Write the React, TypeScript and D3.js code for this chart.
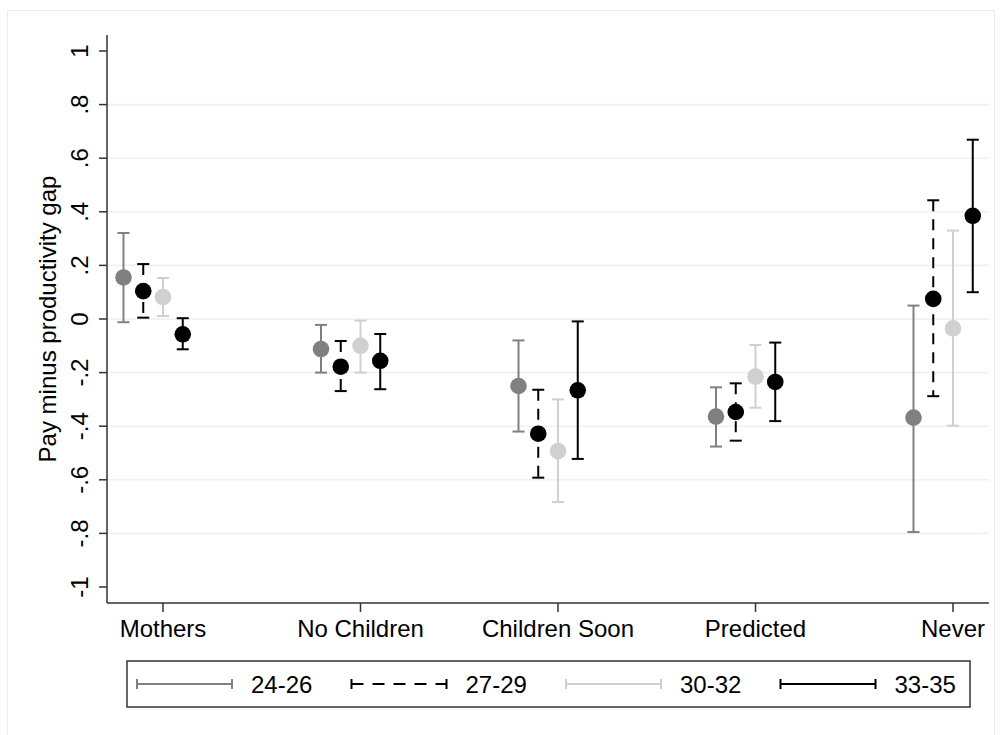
import React from 'react';
import { scaleLinear } from 'd3';

const categories = ['Mothers', 'No Children', 'Children Soon', 'Predicted', 'Never'];
const groups = ['24-26', '27-29', '30-32', '33-35'];
const yTicks = [1, 0.8, 0.6, 0.4, 0.2, 0, -0.2, -0.4, -0.6, -0.8, -1];

// point estimates and confidence bounds per age group
const est24 = [0.155, -0.112, -0.25, -0.364, -0.368];
const lo24 = [-0.012, -0.2, -0.42, -0.476, -0.795];
const hi24 = [0.321, -0.022, -0.08, -0.255, 0.05];

const est27 = [0.104, -0.178, -0.428, -0.347, 0.075];
const lo27 = [0.005, -0.269, -0.592, -0.454, -0.288];
const hi27 = [0.205, -0.082, -0.264, -0.24, 0.443];

const est30 = [0.082, -0.1, -0.493, -0.215, -0.035];
const lo30 = [0.011, -0.2, -0.683, -0.331, -0.398];
const hi30 = [0.153, -0.006, -0.3, -0.097, 0.33];

const est33 = [-0.057, -0.156, -0.266, -0.235, 0.385];
const lo33 = [-0.113, -0.262, -0.522, -0.381, 0.1];
const hi33 = [0.003, -0.056, -0.009, -0.088, 0.669];

const series = [
  { name: groups[0], est: est24, lo: lo24, hi: hi24, color: '#808080', dash: null, offset: -0.2 },
  { name: groups[1], est: est27, lo: lo27, hi: hi27, color: '#000000', dash: '11,8', offset: -0.1 },
  { name: groups[2], est: est30, lo: lo30, hi: hi30, color: '#d0d0d0', dash: null, offset: 0 },
  { name: groups[3], est: est33, lo: lo33, hi: hi33, color: '#000000', dash: null, offset: 0.1 },
];

const fmt = (v: number) => {
  if (v === 0) return '0';
  if (Math.abs(v) === 1) return v > 0 ? '1' : '-1';
  return v.toFixed(1).replace('0.', '.');
};

export default function App() {
  const font = '"Liberation Sans", Arial, Helvetica, sans-serif';
  const fs = 24;

  const x = scaleLinear().domain([1, 5]).range([163, 953]);
  const y = scaleLinear().domain([-1, 1]).range([587, 51]);

  const axisLeft = 107;
  const axisRight = 989;
  const axisBottom = 603;
  const cap = 6;

  const legendX = 127;
  const legendY = 661;
  const legendW = 843;
  const legendH = 46;
  const itemStep = 214.5;

  return (
    <svg
      width={1002}
      height={735}
      style={{ position: 'absolute', left: 0, top: 0, background: '#fff' }}
      fontFamily={font}
    >
      {/* outer frame */}
      <rect x={7.5} y={10.5} width={987} height={740} fill="none" stroke="#ececec" strokeWidth={1} />

      {/* grid lines */}
      {yTicks
        .filter((t) => Math.abs(t) < 1)
        .map((t) => (
          <line key={'g' + t} x1={axisLeft} x2={axisRight} y1={y(t)} y2={y(t)} stroke="#eaf2f3" strokeWidth={1.6} />
        ))}

      {/* y axis */}
      <line x1={axisLeft} x2={axisLeft} y1={35} y2={axisBottom} stroke="#333" strokeWidth={1.5} />
      {yTicks.map((t) => (
        <g key={'yt' + t}>
          <line x1={axisLeft - 8} x2={axisLeft} y1={y(t)} y2={y(t)} stroke="#333" strokeWidth={1.5} />
          <text
            transform={`translate(88,${y(t)}) rotate(-90)`}
            textAnchor="middle"
            fontSize={fs}
            fill="#000"
          >
            {fmt(t)}
          </text>
        </g>
      ))}
      <text transform={`translate(56,${y(0)}) rotate(-90)`} textAnchor="middle" fontSize={fs} fill="#000">
        Pay minus productivity gap
      </text>

      {/* x axis */}
      <line x1={axisLeft} x2={axisRight} y1={axisBottom} y2={axisBottom} stroke="#333" strokeWidth={1.5} />
      {categories.map((c, i) => (
        <g key={c}>
          <line x1={x(i + 1)} x2={x(i + 1)} y1={axisBottom} y2={axisBottom + 9} stroke="#333" strokeWidth={1.5} />
          <text x={x(i + 1)} y={637} textAnchor="middle" fontSize={fs} fill="#000">
            {c}
          </text>
        </g>
      ))}

      {/* error bars and points */}
      {series.map((s) => (
        <g key={s.name}>
          {categories.map((c, i) => {
            const cx = x(i + 1 + s.offset);
            return (
              <g key={c}>
                <line
                  x1={cx}
                  x2={cx}
                  y1={y(s.hi[i])}
                  y2={y(s.lo[i])}
                  stroke={s.color}
                  strokeWidth={2}
                  strokeDasharray={s.dash || undefined}
                />
                <line x1={cx - cap} x2={cx + cap} y1={y(s.hi[i])} y2={y(s.hi[i])} stroke={s.color} strokeWidth={2} />
                <line x1={cx - cap} x2={cx + cap} y1={y(s.lo[i])} y2={y(s.lo[i])} stroke={s.color} strokeWidth={2} />
                <circle cx={cx} cy={y(s.est[i])} r={8.3} fill={s.color} />
              </g>
            );
          })}
        </g>
      ))}

      {/* legend */}
      <rect x={legendX} y={legendY} width={legendW} height={legendH} fill="#fff" stroke="#333" strokeWidth={1.5} />
      {series.map((s, i) => {
        const lx = 137 + i * itemStep;
        const ly = legendY + legendH / 2;
        return (
          <g key={'lg' + s.name}>
            <line x1={lx} x2={lx + 95} y1={ly} y2={ly} stroke={s.color} strokeWidth={2} strokeDasharray={s.dash ? '12,9' : undefined} />
            <line x1={lx} x2={lx} y1={ly - 5} y2={ly + 5} stroke={s.color} strokeWidth={2} />
            <line x1={lx + 95} x2={lx + 95} y1={ly - 5} y2={ly + 5} stroke={s.color} strokeWidth={2} />
            <text x={lx + 114} y={ly + 8.5} fontSize={fs} fill="#000">
              {s.name}
            </text>
          </g>
        );
      })}
    </svg>
  );
}
